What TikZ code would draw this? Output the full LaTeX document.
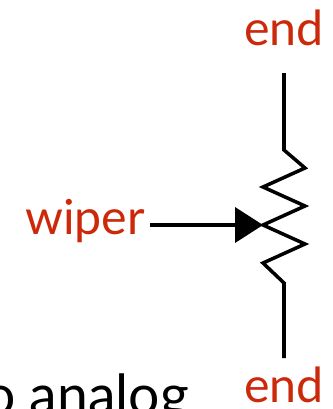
\documentclass[tikz,border=0pt]{standalone}
\usepackage{fontspec}
\setmainfont{Lato}
\usetikzlibrary{positioning,calc}
\definecolor{labelred}{RGB}{204,41,10}
\begin{document}
\begin{tikzpicture}[x=0.02cm,y=-0.02cm,>=stealth]

    \tikzstyle{pinLabel}=[text=labelred, font=\fontsize{27.5pt}{30pt}\selectfont, inner sep=0pt, anchor=base]
    \tikzstyle{lead}=[line width=2pt, draw=black, line join=miter]

    \useasboundingbox (0,0) rectangle (333,409);

    % Labels
    \node at (284,45) [pinLabel] (endTop) {end};
    \node at (284,402) [pinLabel] (endBottom) {end};
    \node at (85,234) [pinLabel] (wiper) {wiper};
    \node at (-16,414) [anchor=base west, inner sep=0pt, text=black, font=\fontsize{31.5pt}{34pt}\selectfont] (caption) {o analog};

    % Resistor pins
    \coordinate (pinTop) at (284,73);
    \coordinate (pinBottom) at (284,358);
    \coordinate (tip) at (263,225);
    \coordinate (tail) at (150,225);

    \draw [lead] (pinTop) -- (284,150) -- (305,168) -- (263,187) -- (305,206)
        -- (tip) -- (305,244) -- (263,263) -- (284,283) -- (pinBottom);

    % Wiper arrow
    \draw [lead] (tail) -- (236,225);
    \fill (tip) -- (235,207) -- (235,243) -- cycle;

\end{tikzpicture}
\end{document}
